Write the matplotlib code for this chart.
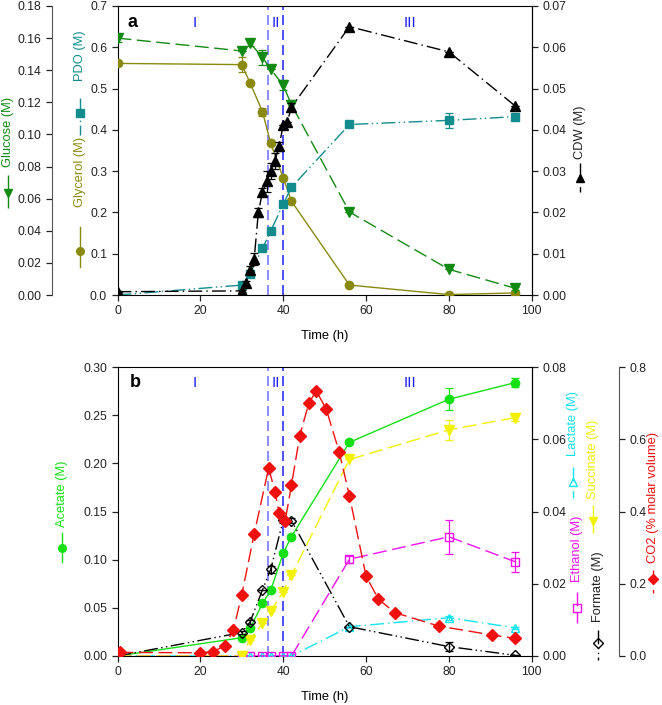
import matplotlib
matplotlib.use('Agg')
import matplotlib.pyplot as plt
from matplotlib.lines import Line2D
from matplotlib.ticker import FormatStrFormatter
import numpy as np

plt.rcParams['font.family'] = ['Liberation Sans', 'DejaVu Sans']
plt.rcParams['font.size'] = 8.5

# ---------------- data: panel a ----------------
t_a = [0, 30, 32, 35, 37, 40, 42, 56, 80, 96]
glycerol = [0.561, 0.558, 0.514, 0.444, 0.367, 0.284, 0.227, 0.024, 0.001, 0.005]
glycerol_err = [0, 0.018, 0, 0.010, 0, 0, 0, 0, 0, 0]
glucose = [0.160, 0.152, 0.157, 0.148, 0.1406, 0.1307, 0.1185, 0.0517, 0.0160, 0.0042]
glucose_err = [0.0027, 0, 0.002, 0.0045, 0, 0.003, 0.003, 0, 0, 0.001]
pdo = [0.0, 0.024, 0.052, 0.113, 0.155, 0.220, 0.261, 0.413, 0.423, 0.432]
pdo_err = [0, 0, 0, 0, 0, 0, 0, 0.004, 0.019, 0.006]
t_cdw = [0, 30, 31, 32, 33, 34, 35, 36, 37, 38, 39, 40, 41, 42, 56, 80, 96]
cdw = [0.0008, 0.001, 0.003, 0.006, 0.0087, 0.020, 0.0249, 0.0275, 0.030,
       0.0324, 0.036, 0.0411, 0.042, 0.0455, 0.065, 0.0589, 0.0458]
cdw_err = [0, 0.0003, 0.0005, 0.001, 0.0015, 0.001, 0.001, 0.0025, 0.002,
           0.002, 0.001, 0, 0, 0.001, 0, 0, 0]

# ---------------- data: panel b ----------------
t_b = [0, 30, 32, 35, 37, 40, 42, 56, 80, 96]
acetate = [0.0, 0.019, 0.0287, 0.0545, 0.0685, 0.1066, 0.124, 0.2218, 0.2665, 0.2838]
acetate_err = [0, 0, 0, 0, 0, 0, 0.002, 0.001, 0.0114, 0.005]
succinate = [0, 0, 0.0045, 0.009, 0.0124, 0.0178, 0.0224, 0.0544, 0.0626, 0.066]
succinate_err = [0, 0, 0, 0, 0, 0, 0, 0, 0.0028, 0.001]
formate = [0, 0.0065, 0.0094, 0.0183, 0.024, 0.0376, 0.0375, 0.0081, 0.0026, 0.0002]
formate_err = [0, 0.0005, 0.0005, 0, 0.001, 0.0008, 0.0008, 0, 0.0013, 0]
lactate = [0, 0, 0, 0, 0, 0, 0, 0.0081, 0.0106, 0.0078]
lactate_err = [0, 0, 0, 0, 0, 0, 0, 0, 0.0005, 0.0003]
ethanol = [0, 0, 0, 0, 0, 0, 0, 0.0268, 0.033, 0.0261]
ethanol_err = [0, 0, 0, 0, 0, 0, 0, 0.001, 0.0047, 0.0028]
t_co2 = [0.5, 20, 23, 26, 28, 30, 33, 36.5, 38, 39, 40.5, 42, 44, 46.2, 48,
         50.4, 53.5, 56, 60, 63, 67, 77.5, 90.5, 96]
co2 = [0.01, 0.009, 0.012, 0.028, 0.072, 0.17, 0.338, 0.521, 0.455, 0.397,
       0.375, 0.473, 0.61, 0.70, 0.734, 0.683, 0.566, 0.443, 0.2215, 0.157,
       0.12, 0.083, 0.058, 0.049]

phase_lines = [36.4, 40.0]
phase_labels = ['I', 'II', 'III']
phase_label_x = [18.7, 38.3, 70.6]

W, H = 662, 705
fig = plt.figure(figsize=(W / 100, H / 100), dpi=100)

def px2fig(x, y):
    return x / W, 1 - y / H

L, R = 117.5, 531.7
axw = (R - L) / W
axh = 289 / H
ax1 = fig.add_axes([L / W, 1 - 295 / H, axw, axh])
bx1 = fig.add_axes([L / W, 1 - 656 / H, axw, axh])

C_GLU = '#138a13'
C_GLY = '#8a8a10'
C_PDO = '#128c8c'
C_ACE = '#14e014'
C_SUC = '#f2f200'
C_LAC = '#10e6f0'
C_ETH = '#f010f0'
C_CO2 = '#f01010'
C_BLUE = '#2020ff'

LS_DDD = (0, (10, 2.5, 1, 2.5, 1, 2.5))
LS_DD = (0, (10, 3, 1, 3))
LS_DASH = (0, (10, 4))

ms = 6
ekw = dict(capsize=3, elinewidth=0.9, capthick=0.9)
TICKFS = 8.7
LABFS = 9.3

# -------- panel a --------
axg = ax1.twinx()
axc = ax1.twinx()
axg.spines['left'].set_position(('axes', -65.8 / (R - L)))
axg.spines['left'].set_visible(True)
axg.spines['left'].set_color('#555555')
axg.spines['right'].set_visible(False)
axg.spines['top'].set_visible(False)
axg.spines['bottom'].set_visible(False)
axg.yaxis.set_ticks_position('left')
axg.yaxis.set_label_position('left')
axc.spines['left'].set_visible(False)
axc.spines['top'].set_visible(False)
axc.spines['bottom'].set_visible(False)

for ax in (ax1, axg, axc):
    ax.set_xlim(0, 100)
    ax.tick_params(direction='out', length=4, width=0.9, labelsize=TICKFS, colors='#222222')
ax1.set_ylim(0, 0.7)
axg.set_ylim(0, 0.18)
axc.set_ylim(0, 0.07)
ax1.set_yticks(np.arange(0, 0.71, 0.1))
ax1.yaxis.set_major_formatter(FormatStrFormatter('%.1f'))
axg.set_yticks(np.arange(0, 0.181, 0.02))
axg.yaxis.set_major_formatter(FormatStrFormatter('%.2f'))
axc.set_yticks(np.arange(0, 0.071, 0.01))
axc.yaxis.set_major_formatter(FormatStrFormatter('%.2f'))
ax1.set_xticks(range(0, 101, 20))
ax1.set_xlabel('Time (h)', fontsize=LABFS, labelpad=9)

for x, c in zip(phase_lines, ['#7878ff', '#3030ff']):
    ax1.axvline(x, color=c, ls=(0, (6, 3)), lw=1.2, zorder=1)

ax1.errorbar(t_a, glycerol, yerr=glycerol_err, color=C_GLY, ls='-', lw=1.0,
             marker='o', ms=ms, mec=C_GLY, ecolor=C_GLY, **ekw, zorder=3)
ax1.errorbar(t_a, pdo, yerr=pdo_err, color=C_PDO, ls=LS_DDD, lw=1.0,
             marker='s', ms=ms, mec=C_PDO, ecolor=C_PDO, **ekw, zorder=3)
axg.errorbar(t_a, glucose, yerr=glucose_err, color=C_GLU, ls=LS_DASH, lw=1.0,
             marker='v', ms=ms + 1, mec=C_GLU, ecolor=C_GLU, **ekw, zorder=3)
axc.errorbar(t_cdw, cdw, yerr=cdw_err, color='black', ls=LS_DD, lw=1.0,
             marker='^', ms=ms + 1, mec='black', ecolor='black', **ekw, zorder=3)

ax1.text(2.5, 0.66, 'a', fontsize=13, fontweight='bold', va='center', ha='left')
for lab, x in zip(phase_labels, phase_label_x):
    ax1.text(x, 0.658, lab, color=C_BLUE, fontsize=11, ha='center', va='center')

# -------- panel b --------
bx2 = bx1.twinx()
bx3 = bx1.twinx()
bx3.spines['right'].set_position(('axes', (619 - L) / (R - L)))
bx3.spines['right'].set_color('#555555')
for ax in (bx2, bx3):
    ax.spines['left'].set_visible(False)
    ax.spines['top'].set_visible(False)
    ax.spines['bottom'].set_visible(False)
for ax in (bx1, bx2, bx3):
    ax.set_xlim(0, 100)
    ax.tick_params(direction='out', length=4, width=0.9, labelsize=TICKFS, colors='#222222')
bx1.set_ylim(0, 0.30)
bx2.set_ylim(0, 0.08)
bx3.set_ylim(0, 0.8)
bx1.set_yticks(np.arange(0, 0.301, 0.05))
bx1.yaxis.set_major_formatter(FormatStrFormatter('%.2f'))
bx2.set_yticks(np.arange(0, 0.081, 0.02))
bx2.yaxis.set_major_formatter(FormatStrFormatter('%.2f'))
bx3.set_yticks(np.arange(0, 0.81, 0.2))
bx3.yaxis.set_major_formatter(FormatStrFormatter('%.1f'))
bx1.set_xticks(range(0, 101, 20))
bx1.set_xlabel('Time (h)', fontsize=LABFS, labelpad=9)

for x, c in zip(phase_lines, ['#7878ff', '#3030ff']):
    bx1.axvline(x, color=c, ls=(0, (6, 3)), lw=1.2, zorder=1)

bx3.plot(t_co2, co2, color=C_CO2, ls=LS_DASH, lw=1.0, marker='D', ms=ms,
         mec=C_CO2, zorder=3)
bx2.errorbar(t_b, lactate, yerr=lactate_err, color=C_LAC, ls=LS_DD, lw=1.0,
             marker='^', ms=ms, mfc='none', mec=C_LAC, ecolor=C_LAC, **ekw, zorder=3)
bx2.errorbar(t_b, ethanol, yerr=ethanol_err, color=C_ETH, ls=LS_DASH, lw=1.0,
             marker='s', ms=ms, mfc='none', mec=C_ETH, ecolor=C_ETH, **ekw, zorder=3)
bx2.errorbar(t_b, succinate, yerr=succinate_err, color=C_SUC, ls=LS_DASH, lw=1.0,
             marker='v', ms=ms + 1, mec=C_SUC, ecolor=C_SUC, **ekw, zorder=3)
bx2.errorbar(t_b, formate, yerr=formate_err, color='black', ls=LS_DDD, lw=1.0,
             marker='D', ms=ms - 0.5, mfc='none', mec='black', ecolor='black', **ekw, zorder=3)
bx1.errorbar(t_b, acetate, yerr=acetate_err, color=C_ACE, ls='-', lw=1.0,
             marker='o', ms=ms, mec=C_ACE, ecolor=C_ACE, **ekw, zorder=4)

bx1.text(3.0, 0.284, 'b', fontsize=13, fontweight='bold', va='center', ha='left')
for lab, x in zip(phase_labels, phase_label_x):
    bx1.text(x, 0.283, lab, color=C_BLUE, fontsize=11, ha='center', va='center')

# -------- y-axis labels with legend keys --------
def ylab(x, text, tc, s0, s1, my, color, tcolor, ls, marker, mfc=None, msz=5.5):
    fx, fy = px2fig(x, tc)
    fig.text(fx, fy, text, rotation=90, ha='center', va='center', color=tcolor,
             fontsize=LABFS)
    x0, y0 = px2fig(x, s0)
    _, y1 = px2fig(x, s1)
    fig.add_artist(Line2D([x0, x0], [y0, y1], transform=fig.transFigure,
                          color=color, ls=ls, lw=1.0))
    _, ym = px2fig(x, my)
    fig.add_artist(Line2D([x0], [ym], transform=fig.transFigure, marker=marker,
                          ms=msz, color=color, mfc=mfc if mfc else color, mec=color))

ylab(8, 'Glucose (M)', 132, 175, 208, 193, C_GLU, C_GLU, LS_DASH, 'v', msz=6)
ylab(80, 'PDO (M)', 56, 98, 135, 113, C_PDO, C_PDO, LS_DDD, 's')
ylab(80, 'Glycerol (M)', 172, 227, 267, 251, C_GLY, C_GLY, '-', 'o')
ylab(580, 'CDW (M)', 132, 163, 192, 178, 'black', '#222222', LS_DD, '^', msz=6)

ylab(62, 'Acetate (M)', 494, 533, 562, 548, C_ACE, C_ACE, '-', 'o')
ylab(573, 'Lactate (M)', 424, 467, 498, 482, C_LAC, C_LAC, LS_DD, '^', mfc='none')
ylab(593, 'Succinate (M)', 459, 505, 533, 521, C_SUC, C_SUC, LS_DASH, 'v', msz=6)
ylab(577, 'Ethanol (M)', 549, 592, 623, 608, C_ETH, C_ETH, LS_DASH, 's', mfc='none')
ylab(598, 'Formate (M)', 587, 630, 660, 643, 'black', '#222222', LS_DDD, 'D', mfc='none', msz=5)
ylab(653, 'CO2 (% molar volume)', 497, 570, 593, 579, C_CO2, C_CO2, LS_DASH, 'D')

fig.savefig('out.png', dpi=100)
